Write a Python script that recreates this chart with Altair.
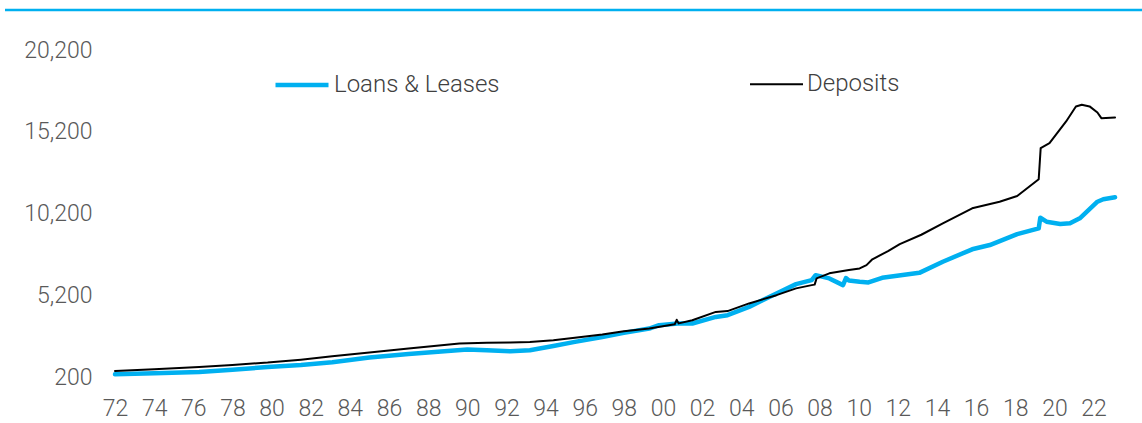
import altair as alt
import pandas as pd

# ---- data (US$ bn, fractional years) ----
loan_years = [1972.0, 1974.0, 1976.3, 1978.0, 1979.8, 1981.5, 1983.1, 1985.0, 1987.0, 1989.0,
              1990.0, 1991.0, 1992.2, 1993.2, 1994.4, 1995.5, 1996.9, 1998.0, 1999.3, 1999.8,
              2000.75, 2001.5, 2002.7, 2003.3, 2004.4, 2005.8, 2006.8, 2007.6, 2007.8, 2008.5,
              2009.2, 2009.35, 2009.5, 2010.05, 2010.5, 2011.2, 2013.1, 2014.3, 2015.8, 2016.7,
              2018.1, 2019.2, 2019.28, 2019.6, 2020.3, 2020.8, 2021.3, 2022.2, 2022.5, 2023.1]
loan_values = [365, 430, 510, 650, 810, 930, 1100, 1390, 1600, 1790,
               1880, 1830, 1775, 1840, 2100, 2350, 2650, 2900, 3165, 3370,
               3470, 3470, 3875, 3980, 4490, 5310, 5880, 6125, 6430, 6230,
               5820, 6250, 6100, 6020, 5985, 6270, 6570, 7250, 8010, 8270,
               8940, 9290, 9940, 9700, 9560, 9600, 9905, 10920, 11070, 11190]

dep_years = [1972.0, 1974.0, 1976.3, 1978.0, 1979.8, 1981.5, 1983.1, 1985.0, 1987.0, 1989.6,
             1991.0, 1992.2, 1993.2, 1994.4, 1995.5, 1996.9, 1998.0, 1999.3, 2000.6, 2000.7,
             2000.8, 2001.5, 2002.7, 2003.3, 2004.4, 2005.8, 2006.8, 2007.6, 2007.75, 2007.85,
             2008.5, 2009.5, 2010.05, 2010.4, 2010.7, 2011.5, 2012.1, 2013.2, 2014.3, 2015.8,
             2017.2, 2018.1, 2019.2, 2019.3, 2019.75, 2020.2, 2020.6, 2021.1, 2021.4, 2021.8,
             2022.2, 2022.4, 2023.1]
dep_values = [570, 680, 810, 940, 1080, 1260, 1470, 1700, 1950, 2250,
              2290, 2310, 2345, 2450, 2600, 2800, 3000, 3165, 3420, 3700,
              3480, 3675, 4180, 4230, 4700, 5205, 5620, 5820, 5850, 6230,
              6540, 6740, 6840, 7040, 7400, 7900, 8330, 8900, 9600, 10520,
              10920, 11270, 12300, 14200, 14500, 15210, 15830, 16740, 16850, 16750,
              16380, 16030, 16070]

series = ["Loans & Leases", "Deposits"]
colors = ["#00B0F0", "#000000"]
widths = [4.5, 2.0]
x_ticks = list(range(1972, 2023, 2))
y_ticks = [200, 5200, 10200, 15200, 20200]

df = pd.concat([
    pd.DataFrame({"year": loan_years, "value": loan_values, "series": series[0]}),
    pd.DataFrame({"year": dep_years, "value": dep_values, "series": series[1]}),
], ignore_index=True)

FONT = "Roboto"

base = alt.Chart(df).mark_line(strokeJoin="round", strokeCap="round").encode(
    x=alt.X("year:Q",
            scale=alt.Scale(domain=[1972, 2023.2], nice=False, zero=False),
            axis=alt.Axis(values=x_ticks, title=None, grid=False, ticks=False, domain=False,
                          labelExpr="(datum.value % 100 < 10 ? '0' : '') + (datum.value % 100)",
                          labelPadding=20, labelFlush=False, labelOverlap=False)),
    y=alt.Y("value:Q",
            scale=alt.Scale(domain=[200, 20200], nice=False, zero=False),
            axis=alt.Axis(values=y_ticks, title=None, grid=False, ticks=False, domain=False,
                          format=",.0f", labelPadding=23)),
    color=alt.Color("series:N", title=None,
                    scale=alt.Scale(domain=series, range=colors)),
    strokeWidth=alt.StrokeWidth("series:N", title=None,
                                scale=alt.Scale(domain=series, range=widths)),
)

loans = base.transform_filter(alt.datum.series == series[0])
deps = base.transform_filter(alt.datum.series == series[1])

top_rule = alt.Chart(pd.DataFrame({"a": [0]})).mark_rule(
    color="#00B0F0", strokeWidth=2.5
).encode(x=alt.value(-110), x2=alt.value(1027), y=alt.value(-40))

chart = alt.layer(top_rule, loans, deps).properties(
    width=1002, height=327,
    autosize=alt.AutoSizeParams(type="none"),
    padding={"left": 115, "top": 50, "right": 25, "bottom": 46},
).configure_view(strokeWidth=0).configure_axis(
    labelFont=FONT, labelFontSize=23, labelFontWeight=300, labelColor="#595959"
).configure_legend(
    orient="none", legendX=158, legendY=6, direction="horizontal",
    symbolType="stroke", symbolSize=2809, labelFont=FONT, labelFontSize=24,
    labelFontWeight=300, labelColor="#404040", labelOffset=3, columnPadding=246,
    labelLimit=400, padding=0
)

chart.save("out.html", embed_options={"renderer": "svg", "actions": False})
